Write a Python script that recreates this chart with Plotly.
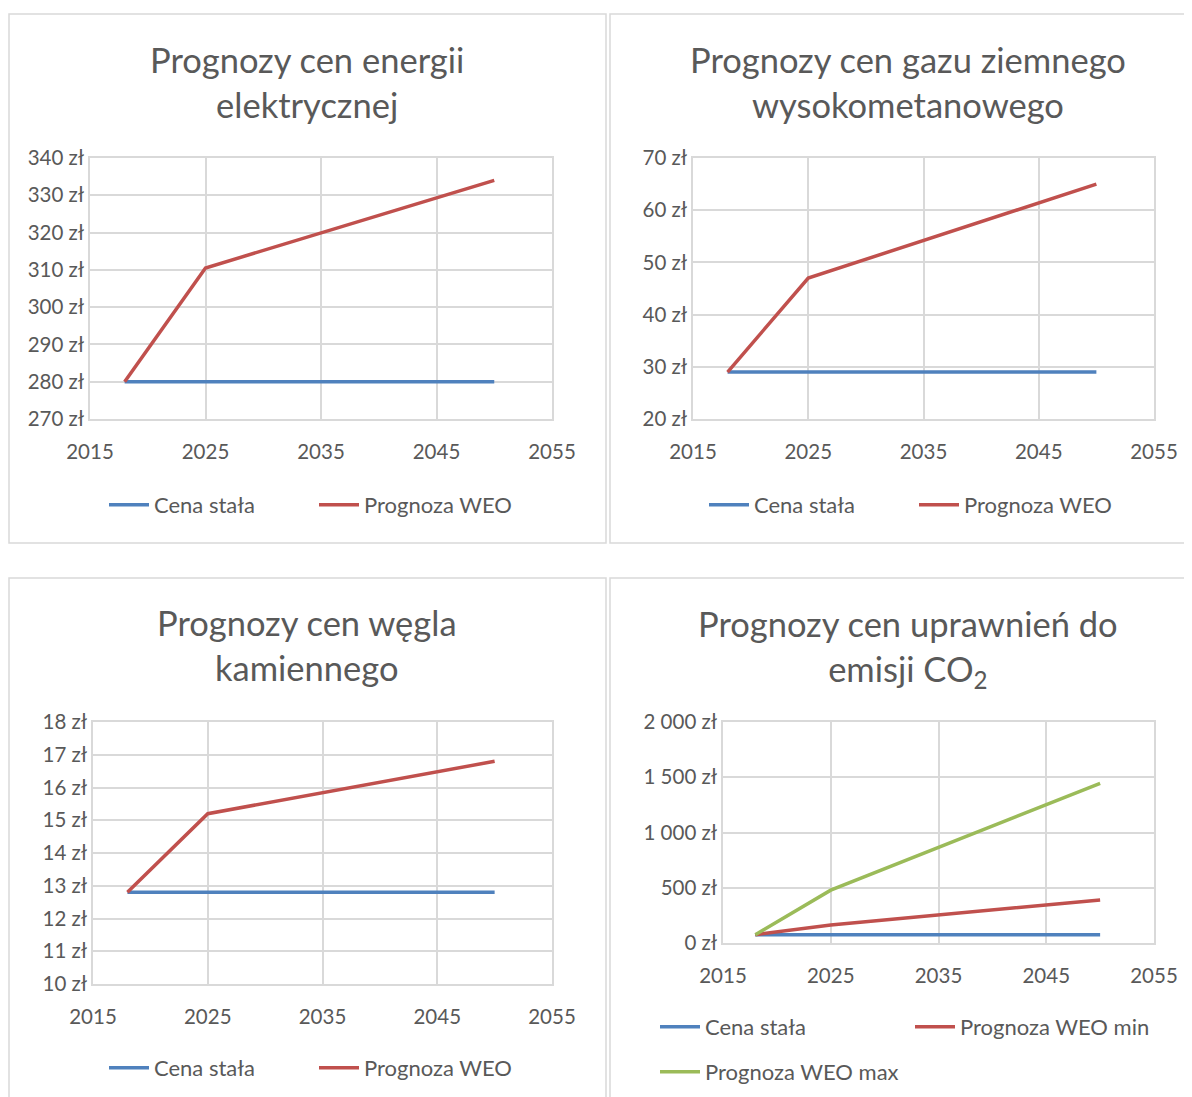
# Four Excel-style price forecast charts (PLN) in a 2x2 grid.

import plotly.graph_objects as go

W, H = 1192, 1097
OFF = 8  # page body margin, positions below are in screenshot pixels

# ── Data ──────────────────────────────────────────────────────────────────────
years = [2018, 2025, 2050]

el_const = [280, 280, 280]
el_weo   = [280, 310.5, 334]

gas_const = [29, 29, 29]
gas_weo   = [29, 47, 65]

coal_const = [12.8, 12.8, 12.8]
coal_weo   = [12.8, 15.2, 16.8]

co2_const   = [75, 75, 75]
co2_weo_min = [75, 163, 390]
co2_weo_max = [75, 478, 1445]

x_range = [2015, 2055]
x_ticks = [2015, 2025, 2035, 2045, 2055]

# ── Design tokens ─────────────────────────────────────────────────────────────
BLUE  = "#4F81BD"
RED   = "#C0504D"
GREEN = "#9BBB59"
TEXT  = "#595959"
GRID  = "#D9D9D9"
FONT  = "Lato, 'Open Sans', sans-serif"


def px_x(v):
    return (v - OFF) / W


def px_y(v):
    return 1 - (v - OFF) / H


fig = go.Figure()

# plot areas in pixels: (left, right, top, bottom)
panels = [
    dict(box=(90, 552, 158, 419), yr=[270, 340], dt=10, ax=""),
    dict(box=(693, 1154, 158, 419), yr=[20, 70], dt=10, ax="2"),
    dict(box=(93, 552, 722, 984), yr=[10, 18], dt=1, ax="3"),
    dict(box=(723, 1154, 722, 943), yr=[0, 2000], dt=500, ax="4"),
]

series = [
    [("Cena stała", el_const, BLUE), ("Prognoza WEO", el_weo, RED)],
    [("Cena stała", gas_const, BLUE), ("Prognoza WEO", gas_weo, RED)],
    [("Cena stała", coal_const, BLUE), ("Prognoza WEO", coal_weo, RED)],
    [("Cena stała", co2_const, BLUE), ("Prognoza WEO min", co2_weo_min, RED),
     ("Prognoza WEO max", co2_weo_max, GREEN)],
]
legend_ids = [["legend", "legend"], ["legend2", "legend2"], ["legend3", "legend3"],
              ["legend4", "legend4", "legend5"]]

for i, (p, ser) in enumerate(zip(panels, series)):
    for (name, vals, col), lg in zip(ser, legend_ids[i]):
        fig.add_trace(go.Scatter(
            x=years, y=vals, name=name, mode="lines",
            line=dict(color=col, width=3.5),
            xaxis="x" + p["ax"], yaxis="y" + p["ax"], legend=lg,
        ))
    l, r, t, b = p["box"]
    fig.layout["xaxis" + p["ax"]] = dict(
        domain=[px_x(l), px_x(r)], range=x_range, tickvals=x_ticks,
        anchor="y" + p["ax"], showgrid=True, gridcolor=GRID, gridwidth=1.5,
        showline=True, mirror=True, linecolor=GRID, linewidth=1.5, zeroline=False,
        ticks="", tickfont=dict(size=20.5, color=TEXT, family=FONT), ticklabelstandoff=14,
        fixedrange=True, automargin=False,
    )
    fig.layout["yaxis" + p["ax"]] = dict(
        domain=[px_y(b), px_y(t)], range=p["yr"], dtick=p["dt"],
        anchor="x" + p["ax"], showgrid=True, gridcolor=GRID, gridwidth=1.5,
        showline=True, mirror=True, linecolor=GRID, linewidth=1.5, zeroline=False,
        ticks="", ticksuffix=" zł", separatethousands=True,
        tickfont=dict(size=20.5, color=TEXT, family=FONT), ticklabelstandoff=0,
        fixedrange=True, automargin=False,
    )

# ── Titles ────────────────────────────────────────────────────────────────────
titles = [
    ("Prognozy cen energii<br>elektrycznej", 307, 82),
    ("Prognozy cen gazu ziemnego<br>wysokometanowego", 908, 82),
    ("Prognozy cen węgla<br>kamiennego", 307, 645),
    ("Prognozy cen uprawnień do<br>emisji CO<sub>2</sub>", 908, 648),
]
for text, cx, cy in titles:
    fig.add_annotation(
        text=text, x=px_x(cx), y=px_y(cy), xref="paper", yref="paper",
        showarrow=False, xanchor="center", yanchor="middle",
        font=dict(size=34.5, color=TEXT, family=FONT), align="center",
    )

# ── Panel borders ─────────────────────────────────────────────────────────────
for x0, y0, x1, y1 in [(9, 14, 606, 543), (610, 14, 1215, 543),
                       (9, 578, 606, 1120), (610, 578, 1215, 1120)]:
    fig.add_shape(type="rect", xref="paper", yref="paper",
                  x0=px_x(x0), x1=px_x(x1), y0=px_y(y0), y1=px_y(y1),
                  line=dict(color=GRID, width=1.5))

# ── Legends ───────────────────────────────────────────────────────────────────
LEG = dict(orientation="h", bgcolor="rgba(0,0,0,0)", yanchor="middle", xanchor="left",
           font=dict(size=22, color=TEXT, family=FONT), itemwidth=40)
fig.update_layout(
    legend=dict(LEG, x=px_x(104), y=px_y(505), entrywidth=155),
    legend2=dict(LEG, x=px_x(704), y=px_y(505), entrywidth=155),
    legend3=dict(LEG, x=px_x(104), y=px_y(1068), entrywidth=155),
    legend4=dict(LEG, x=px_x(655), y=px_y(1027), entrywidth=200),
    legend5=dict(LEG, x=px_x(655), y=px_y(1072)),
)

fig.update_layout(
    width=W, height=H, margin=dict(l=0, r=0, t=0, b=0, autoexpand=False),
    paper_bgcolor="white", plot_bgcolor="white",
    font=dict(family=FONT, color=TEXT), separators=", ",
    showlegend=True, hovermode="closest",
)

fig.write_html("out.html")
